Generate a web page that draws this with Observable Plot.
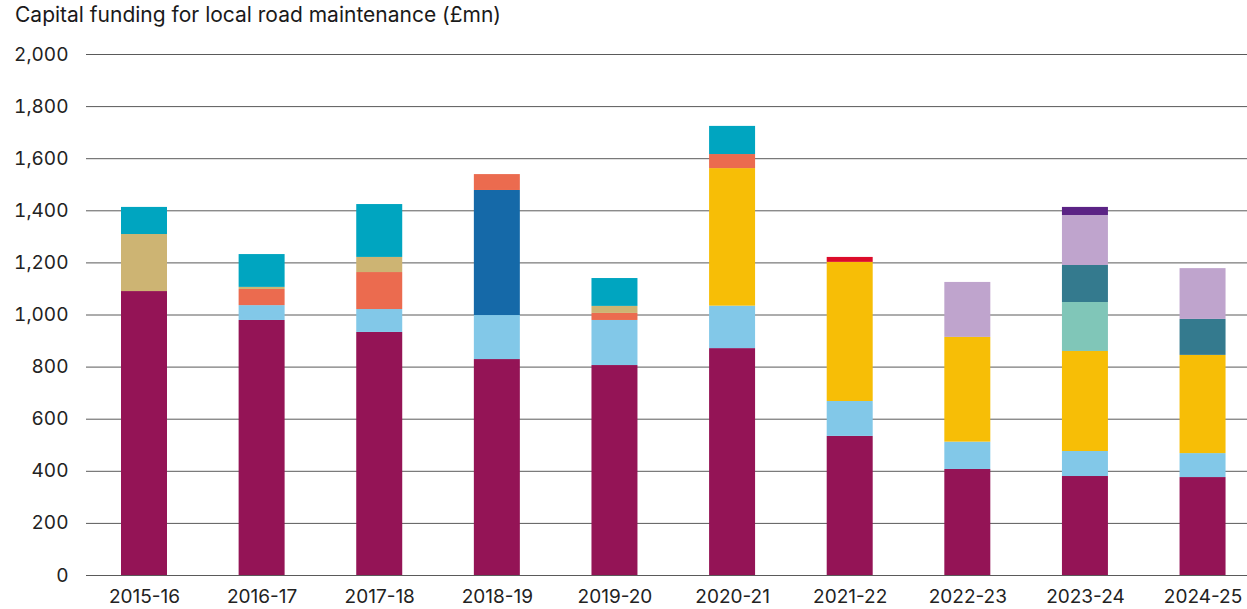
<!DOCTYPE html>
<html>
<head>
<meta charset="utf-8">
<script src="https://cdn.jsdelivr.net/npm/d3@7"></script>
<script src="https://cdn.jsdelivr.net/npm/@observablehq/plot@0.6"></script>
<style>
  html, body { margin: 0; padding: 0; background: #fff; }
  #title { font-family: Inter, "Liberation Sans", sans-serif; font-size: 21px; color: #1a1a1a;
           height: 30px; line-height: 30px; padding-left: 15px; white-space: nowrap; }
  #chart svg { display: block; }
</style>
</head>
<body>
<div id="title">Capital funding for local road maintenance (£mn)</div>
<div id="chart"></div>
<script>
const years = ["2015-16","2016-17","2017-18","2018-19","2019-20","2020-21","2021-22","2022-23","2023-24","2024-25"];
const yTicks = [0,200,400,600,800,1000,1200,1400,1600,1800,2000];

// series values (£mn) per year, stacked bottom to top
const fund1  = [1090, 979, 933, 829, 806, 871, 534, 407, 380, 376]; // maroon
const fund2  = [   0,  57,  88, 169, 173, 163, 134, 105,  96,  92]; // light blue
const fund3  = [   0,   0,   0,   0,   0, 528, 534, 402, 384, 377]; // yellow
const fund4  = [   0,   0,   0, 480,   0,   0,   0,   0,   0,   0]; // dark blue
const fund5  = [   0,  62, 142,  61,  27,  54,   0,   0,   0,   0]; // orange
const fund6  = [ 219,   8,  58,   0,  27,   0,   0,   0,   0,   0]; // tan
const fund7  = [   0,   0,   0,   0,   0,   0,   0,   0, 188,   0]; // mint
const fund8  = [   0,   0,   0,   0,   0,   0,   0,   0, 142, 138]; // dark teal
const fund9  = [   0,   0,   0,   0,   0,   0,   0, 211, 192, 195]; // lilac
const fund10 = [ 104, 126, 203,   0, 107, 108,   0,   0,   0,   0]; // teal
const fund11 = [   0,   0,   0,   0,   0,   0,  19,   0,   0,   0]; // red
const fund12 = [   0,   0,   0,   0,   0,   0,   0,   0,  31,   0]; // purple

const seriesNames = ["Fund 1","Fund 2","Fund 3","Fund 4","Fund 5","Fund 6","Fund 7","Fund 8","Fund 9","Fund 10","Fund 11","Fund 12"];
const seriesValues = [fund1,fund2,fund3,fund4,fund5,fund6,fund7,fund8,fund9,fund10,fund11,fund12];
const seriesColors = ["#941456","#82C8E8","#F7BE06","#1569A8","#EB6B4F","#CDB473","#80C6B8","#347A8E","#BFA4CD","#00A5C0","#DC0C2A","#5B2385"];

const rows = [];
years.forEach((yr, i) => {
  seriesNames.forEach((s, j) => {
    rows.push({year: yr, series: s, value: seriesValues[j][i]});
  });
});

const chart = Plot.plot({
  width: 1247,
  height: 579,
  marginTop: 24,
  marginBottom: 34,
  marginLeft: 86,
  marginRight: 0,
  style: {fontFamily: "Inter, 'Liberation Sans', sans-serif", fontSize: "19px", color: "#222", background: "#fff"},
  x: {domain: years, paddingInner: 0.609, paddingOuter: 0.24, align: 0.62, round: false, label: null, tickSize: 0, tickPadding: 14},
  y: {domain: [0, 2000], ticks: yTicks, tickFormat: d3.format(","), label: null, tickSize: 0, tickPadding: 18},
  color: {domain: seriesNames, range: seriesColors},
  marks: [
    Plot.ruleY(yTicks, {stroke: "#5a5a5a", strokeWidth: 1}),
    Plot.barY(rows, {x: "year", y: "value", fill: "series"})
  ]
});
document.getElementById("chart").appendChild(chart);
</script>
</body>
</html>
